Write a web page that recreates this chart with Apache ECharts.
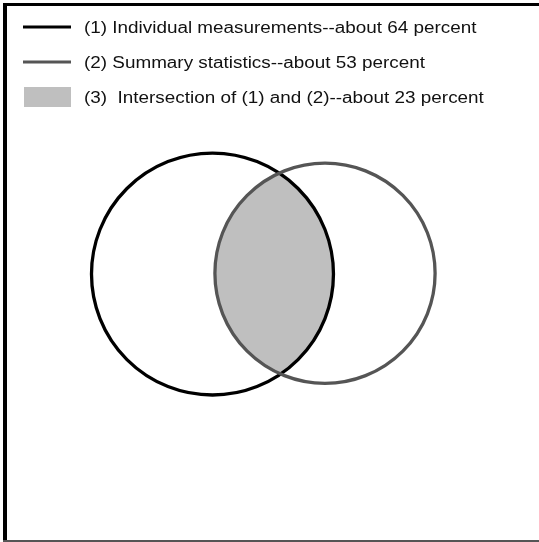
<!DOCTYPE html>
<html>
<head>
<meta charset="utf-8">
<style>
  html, body { margin: 0; padding: 0; background: #fff; }
  #chart { width: 539px; height: 542px; }
</style>
<script src="https://cdn.jsdelivr.net/npm/echarts@6/dist/echarts.min.js"></script>
</head>
<body>
<div id="chart"></div>
<script>
// Legend texts and shares (percent)
var sets = [
  '(1) Individual measurements--about 64 percent',
  '(2) Summary statistics--about 53 percent',
  '(3)  Intersection of (1) and (2)--about 23 percent'
];
var percents = [64, 53, 23];
var colors = ['#000000', '#555555', '#bfbfbf'];

// area-proportional circles: radius = sqrt(percent), so area = pi * percent
var radii = [Math.sqrt(percents[0]), Math.sqrt(percents[1])];
// centre positions (same units as the radii)
var centerX = [0, 7.44];
var centerY = [0, 0.05];

var circles = [
  [centerX[0], centerY[0], radii[0], 0],
  [centerX[1], centerY[1], radii[1], 1]
];

var chart = echarts.init(document.getElementById('chart'));

// Legend samples and frame
var graphics = [];
sets.forEach(function(name, idx) {
  var y = 27 + idx * 35;
  if (idx < 2) {
    graphics.push({
      type: 'line',
      shape: { x1: 23, y1: y, x2: 71, y2: y },
      style: { stroke: colors[idx], lineWidth: 3 }
    });
  } else {
    graphics.push({
      type: 'rect',
      shape: { x: 24, y: y - 10, width: 47, height: 20 },
      style: { fill: colors[idx] }
    });
  }
  graphics.push({
    type: 'text',
    x: 84,
    y: y + 2,
    scaleX: 1.18,
    style: {
      text: name,
      fill: '#111',
      font: '16px "Liberation Sans", Arial, Helvetica, sans-serif',
      verticalAlign: 'middle'
    }
  });
});
graphics.push(
  { type: 'line', shape: { x1: 3, y1: 4.5, x2: 539, y2: 4.5 }, style: { stroke: '#000', lineWidth: 3 } },
  { type: 'line', shape: { x1: 5, y1: 3, x2: 5, y2: 542 }, style: { stroke: '#000', lineWidth: 4 } },
  { type: 'line', shape: { x1: 3, y1: 541, x2: 539, y2: 541 }, style: { stroke: '#555', lineWidth: 2 } }
);

chart.setOption({
  animation: false,
  backgroundColor: '#fff',
  grid: { left: 0, right: 0, top: 0, bottom: 0 },
  xAxis: { type: 'value', min: -14.05, max: 21.59, show: false },
  yAxis: { type: 'value', min: -17.72, max: 18.12, show: false },
  graphic: graphics,
  series: [
    {
      // shaded intersection
      type: 'custom',
      z: 1,
      data: [[circles[0][0], circles[1][0], circles[0][1], circles[1][1], radii[0], radii[1]]],
      renderItem: function(params, api) {
        var c1 = api.coord([api.value(0), api.value(2)]);
        var c2 = api.coord([api.value(1), api.value(3)]);
        var R1 = api.size([api.value(4), 0])[0];
        var R2 = api.size([api.value(5), 0])[0];
        var dx = c2[0] - c1[0], dy = c2[1] - c1[1];
        var D = Math.sqrt(dx * dx + dy * dy);
        var a = (R1 * R1 - R2 * R2 + D * D) / (2 * D);
        var h = Math.sqrt(R1 * R1 - a * a);
        var ux = dx / D, uy = dy / D;
        var mx = c1[0] + a * ux, my = c1[1] + a * uy;
        var tx = mx + h * uy, ty = my - h * ux;
        var bx = mx - h * uy, by = my + h * ux;
        var path = 'M' + tx + ',' + ty +
          'A' + R2 + ',' + R2 + ',0,0,0,' + bx + ',' + by +
          'A' + R1 + ',' + R1 + ',0,0,0,' + tx + ',' + ty + 'Z';
        return {
          type: 'path',
          shape: { pathData: path },
          style: { fill: colors[2], stroke: null }
        };
      }
    },
    {
      // the two sets
      type: 'custom',
      z: 2,
      data: circles,
      renderItem: function(params, api) {
        var c = api.coord([api.value(0), api.value(1)]);
        var r = api.size([api.value(2), 0])[0];
        return {
          type: 'circle',
          shape: { cx: c[0], cy: c[1], r: r },
          style: { fill: 'none', stroke: colors[api.value(3)], lineWidth: 3.3 }
        };
      }
    }
  ]
});
</script>
</body>
</html>
